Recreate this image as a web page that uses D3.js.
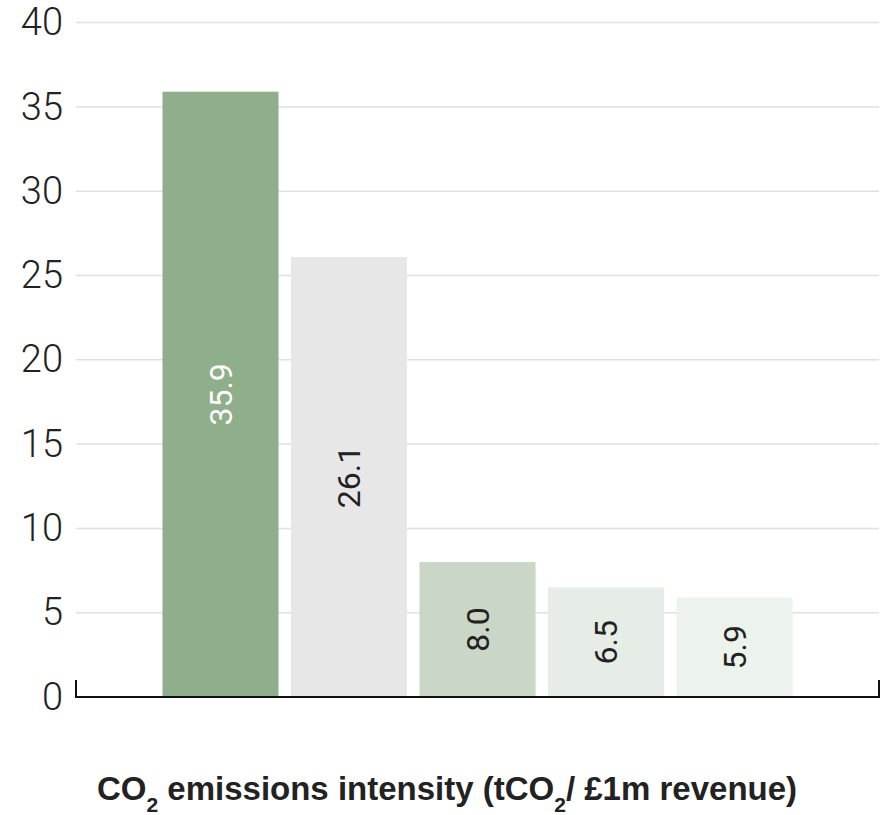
<!DOCTYPE html>
<html>
<head>
<meta charset="utf-8">
<script src="https://cdn.jsdelivr.net/npm/d3@7"></script>
<style>
  html, body { margin: 0; padding: 0; background: #fff; }
  svg { display: block; }
</style>
</head>
<body>
<svg id="chart" width="885" height="815"></svg>
<script>
const categories = ["A", "B", "C", "D", "E"];
const values = [35.9, 26.1, 8.0, 6.5, 5.9];
const valueLabels = ["35.9", "26.1", "8.0", "6.5", "5.9"];
const barColors = ["#8fae8b", "#e7e7e7", "#cad6c6", "#e6ece6", "#ecf3ec"];
const labelColors = ["#ffffff", "#222222", "#222222", "#222222", "#222222"];
const yTicks = [0, 5, 10, 15, 20, 25, 30, 35, 40];

const svg = d3.select("#chart");
const mLeft = 76, mRight = 879, mTop = 22.6, mBottom = 697;

const x = d3.scaleBand().domain(categories).range([mLeft, mRight])
  .paddingInner(0.097).paddingOuter(0.673).align(0.5);
const y = d3.scaleLinear().domain([0, 40]).range([mBottom, mTop]);

// gridlines
svg.append("g").selectAll("line").data(yTicks.filter(d => d > 0)).join("line")
  .attr("x1", mLeft).attr("x2", mRight)
  .attr("y1", d => y(d)).attr("y2", d => y(d))
  .attr("stroke", "#e0e0e0").attr("stroke-width", 1.5);

// y tick labels
const yAxis = d3.axisLeft(y).tickValues(yTicks).tickSize(0).tickPadding(13);
const ga = svg.append("g").attr("transform", `translate(${mLeft},0)`).call(yAxis);
ga.select(".domain").remove();
ga.selectAll("text")
  .attr("font-family", "Roboto, 'Liberation Sans', sans-serif")
  .attr("font-weight", 300)
  .attr("font-size", 38)
  .attr("fill", "#222");

// bars
svg.append("g").selectAll("rect").data(values).join("rect")
  .attr("x", (d, i) => x(categories[i]))
  .attr("width", x.bandwidth())
  .attr("y", d => y(d))
  .attr("height", d => y(0) - y(d))
  .attr("fill", (d, i) => barColors[i]);

// value labels (rotated)
svg.append("g").selectAll("text").data(values).join("text")
  .attr("transform", (d, i) => `translate(${x(categories[i]) + x.bandwidth() / 2},${(y(d) + y(0)) / 2}) rotate(-90)`)
  .attr("text-anchor", "middle")
  .attr("dy", "0.35em")
  .attr("font-family", "Roboto, 'Liberation Sans', sans-serif")
  .attr("font-weight", 400)
  .attr("font-size", 32)
  .attr("fill", (d, i) => labelColors[i])
  .text((d, i) => valueLabels[i]);

// baseline axis with end ticks
svg.append("path")
  .attr("d", `M${mLeft},${mBottom - 17}V${mBottom}H${mRight}V${mBottom - 17}`)
  .attr("fill", "none").attr("stroke", "#111").attr("stroke-width", 2);

// title
const t = svg.append("text")
  .attr("x", 447).attr("y", 800)
  .attr("text-anchor", "middle")
  .attr("font-family", "'Liberation Sans', Arial, sans-serif")
  .attr("font-weight", "bold")
  .attr("font-size", 33)
  .attr("fill", "#222");
t.append("tspan").text("CO");
t.append("tspan").attr("font-size", 21).attr("dy", 12).text("2");
t.append("tspan").attr("dy", -12).text(" emissions intensity (tCO");
t.append("tspan").attr("font-size", 21).attr("dy", 12).text("2");
t.append("tspan").attr("dy", -12).text("/ £1m revenue)");
</script>
</body>
</html>
